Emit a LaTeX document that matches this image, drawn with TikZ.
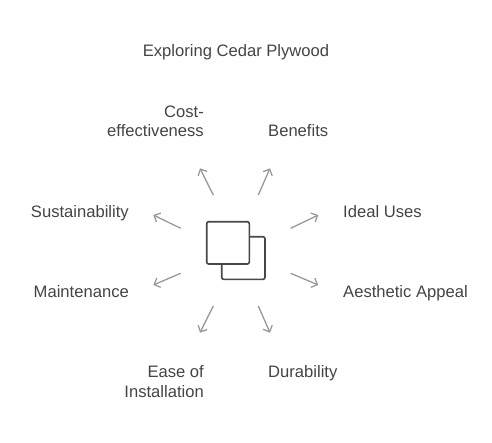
\documentclass[tikz,border=0pt]{standalone}
\usepackage{fontspec}
\setmainfont{Liberation Sans}
\usetikzlibrary{arrows.meta}
\definecolor{txt}{HTML}{444444}
\definecolor{arr}{HTML}{999999}
\definecolor{sq}{HTML}{474747}
\begin{document}
\begin{tikzpicture}[x=1pt,y=-1pt,
  lbl/.style={text=txt,font=\fontsize{16.6}{19.5}\selectfont,inner sep=0pt},
  ray/.style={draw=arr,line width=1.3pt,-{Straight Barb[length=5pt,width=10pt]}},
  sqr/.style={draw=sq,line width=1.6pt,rounded corners=2pt,fill=white}]
\useasboundingbox (0,0) rectangle (492,442);
\node[lbl,anchor=base] (title) at (236,56) {Exploring Cedar Plywood};
% icon
\draw[sqr] (221.7,236.7) rectangle (265,279.3);
\draw[sqr] (206.7,221.7) rectangle (249.3,264);
% arrows
\coordinate (a1s) at (213.3,195); \coordinate (a1e) at (200,168.3);
\coordinate (a2s) at (258.3,195); \coordinate (a2e) at (270,168.3);
\coordinate (a3s) at (180.7,228.3); \coordinate (a3e) at (153.3,215);
\coordinate (a4s) at (290.7,228.3); \coordinate (a4e) at (318.3,215);
\coordinate (a5s) at (180.7,273.3); \coordinate (a5e) at (153.3,285);
\coordinate (a6s) at (290.7,273.3); \coordinate (a6e) at (318.3,285);
\coordinate (a7s) at (213.3,306); \coordinate (a7e) at (200,332.7);
\coordinate (a8s) at (258.3,306); \coordinate (a8e) at (270,332.7);
\foreach \i in {1,...,8} \draw[ray] (a\i s) -- (a\i e);
% labels (base anchor = baseline of last line)
\node[lbl,anchor=base east,align=right] (cost) at (204,136.5) {Cost-\\effectiveness};
\node[lbl,anchor=base west] (ben) at (268,136.5) {Benefits};
\node[lbl,anchor=base east] (sus) at (129,217) {Sustainability};
\node[lbl,anchor=base west] (ideal) at (343,217) {Ideal Uses};
\node[lbl,anchor=base east] (main) at (129,297.5) {Maintenance};
\node[lbl,anchor=base west] (aes) at (343,297.5) {Aesthetic Appeal};
\node[lbl,anchor=base east,align=right] (ease) at (204,397) {Ease of\\Installation};
\node[lbl,anchor=base west] (dur) at (268,377) {Durability};
\end{tikzpicture}
\end{document}
